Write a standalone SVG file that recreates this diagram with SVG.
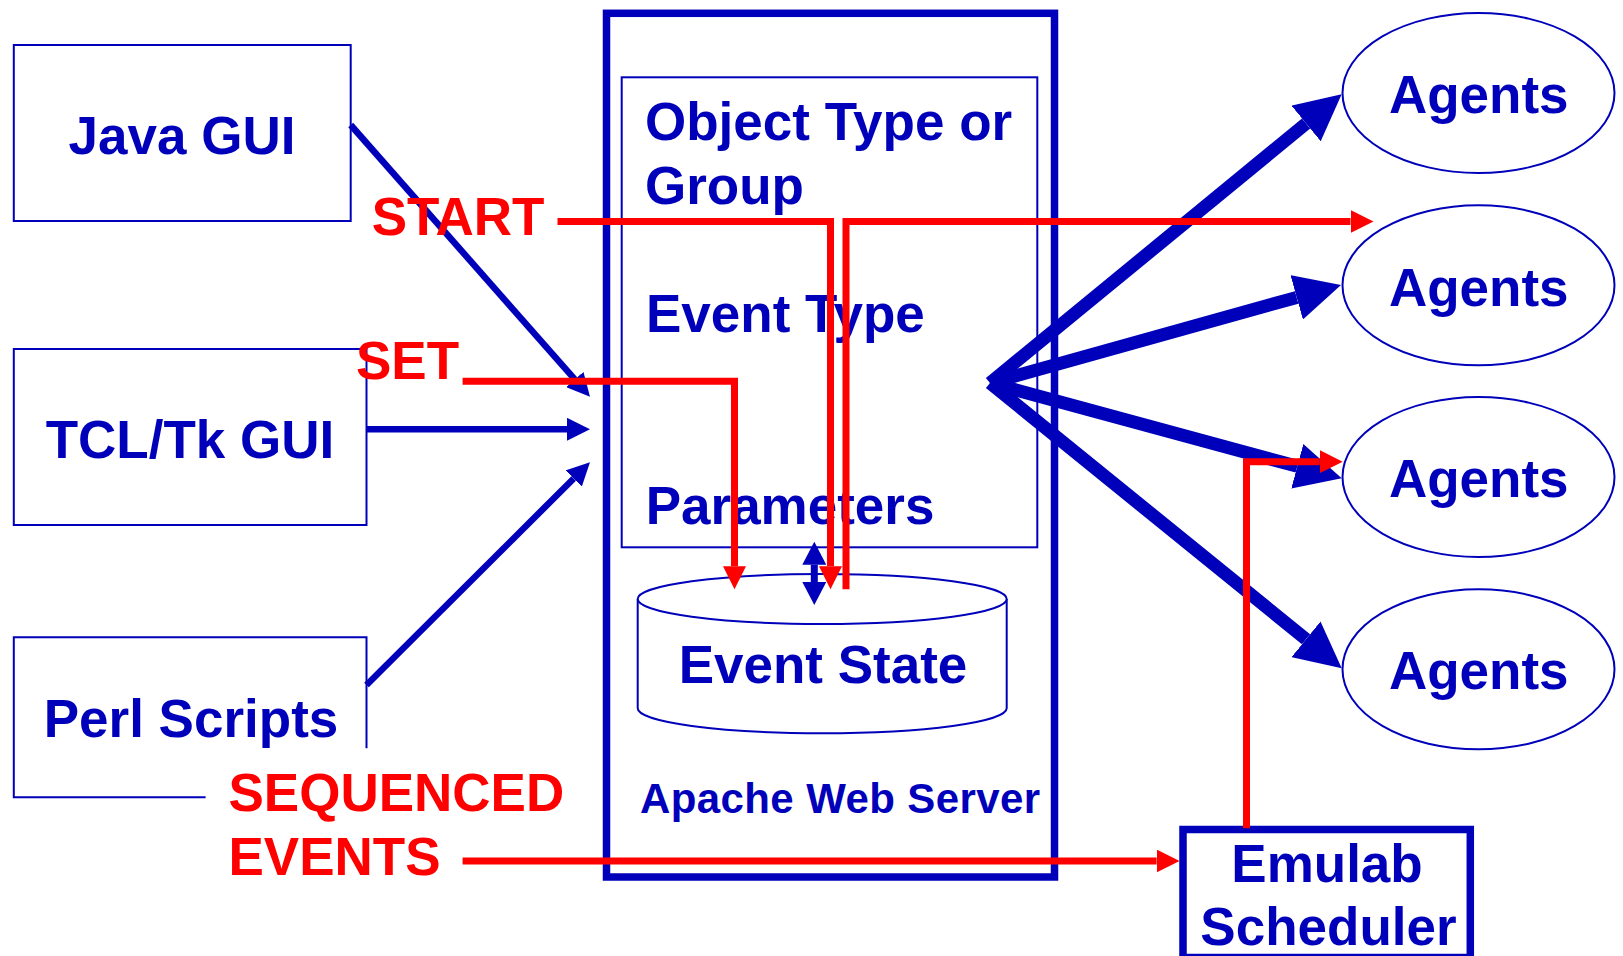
<svg xmlns="http://www.w3.org/2000/svg" width="1623" height="956" viewBox="0 0 1623 956">
<style>
.bx{fill:none;stroke:#0000BB;stroke-width:2}
.bxw{fill:#fff;stroke:#0000BB;stroke-width:2}
.thick{fill:none;stroke:#0000BB;stroke-width:7.5}
.t{font-family:"Liberation Sans",Arial,sans-serif;font-weight:bold;font-size:53px;fill:#0000BB}
.ts{font-size:42px;letter-spacing:0.4px}
.r{font-family:"Liberation Sans",Arial,sans-serif;font-weight:bold;font-size:53px;fill:#FF0000}
.m{text-anchor:middle}
.fan{fill:none;stroke:#0000BB;stroke-width:13;marker-end:url(#bigBlue)}
.thin{fill:none;stroke:#0000BB;stroke-width:6.5;marker-end:url(#smallBlue)}
.dbl{fill:none;stroke:#0000BB;stroke-width:7;marker-end:url(#smallBlue2)}
.red{fill:none;stroke:#FF0000;stroke-width:7}
.ra{marker-end:url(#redArrow)}
</style>
<defs>
<marker id="bigBlue" markerUnits="userSpaceOnUse" viewBox="0 -23 46 46" refX="0" refY="0" markerWidth="46" markerHeight="46" orient="auto"><path d="M0,-23 L46,0 L0,23 z" fill="#0000BB"/></marker>
<marker id="smallBlue" markerUnits="userSpaceOnUse" viewBox="0 -11.5 23 23" refX="0" refY="0" markerWidth="23" markerHeight="23" orient="auto"><path d="M0,-11.5 L23,0 L0,11.5 z" fill="#0000BB"/></marker>
<marker id="smallBlue2" markerUnits="userSpaceOnUse" viewBox="0 -12 23 24" refX="0" refY="0" markerWidth="23" markerHeight="24" orient="auto"><path d="M0,-12 L23,0 L0,12 z" fill="#0000BB"/></marker>
<marker id="redArrow" markerUnits="userSpaceOnUse" viewBox="0 -11.5 23 23" refX="0" refY="0" markerWidth="23" markerHeight="23" orient="auto"><path d="M0,-11.5 L23,0 L0,11.5 z" fill="#FF0000"/></marker>
</defs>
<rect width="1623" height="956" fill="#fff"/>

<g id="java-gui">
<rect class="bx" x="13.8" y="45" width="336.9" height="176"/>
<text class="t m" x="182" y="154">Java GUI</text>
</g>
<g id="tcl-gui">
<rect class="bx" x="13.8" y="349" width="352.7" height="176"/>
<text class="t m" x="190" y="457.7">TCL/Tk GUI</text>
</g>
<g id="perl-scripts">
<path class="bx" d="M205.6,797.3 H13.8 V637.3 H366.5 V748.3"/>
<text class="t m" x="191" y="737.3">Perl Scripts</text>
</g>

<g id="apache-web-server">
<rect class="thick" x="606.5" y="13.3" width="448" height="863.7"/>
<text class="t ts" x="640" y="813.3">Apache Web Server</text>
</g>
<g id="event-fields">
<rect class="bx" x="621.7" y="77.3" width="415.6" height="470"/>
<text class="t" x="645" y="140">Object Type or</text>
<text class="t" x="645" y="204">Group</text>
<text class="t" x="646" y="332.3">Event Type</text>
<text class="t" x="645.7" y="524">Parameters</text>
</g>
<g id="event-state">
<path class="bxw" d="M637.7,599 V708.3 A184.5,25 0 0 0 1006.7,708.3 V599"/>
<ellipse class="bxw" cx="822.2" cy="599" rx="184.5" ry="25"/>
<text class="t m" x="823" y="683.3">Event State</text>
</g>

<g id="agents-1">
<ellipse class="bxw" cx="1478.5" cy="93" rx="136" ry="80"/>
<text class="t m" x="1478.7" y="113.3">Agents</text>
</g>
<g id="agents-2">
<ellipse class="bxw" cx="1478.5" cy="285.3" rx="136" ry="80"/>
<text class="t m" x="1478.7" y="305.7">Agents</text>
</g>
<g id="agents-3">
<ellipse class="bxw" cx="1478.5" cy="477" rx="136" ry="80"/>
<text class="t m" x="1478.7" y="497.3">Agents</text>
</g>
<g id="agents-4">
<ellipse class="bxw" cx="1478.5" cy="669.3" rx="136" ry="80"/>
<text class="t m" x="1478.7" y="689.3">Agents</text>
</g>

<g id="emulab-scheduler">
<rect class="thick" x="1183" y="829.5" width="287.3" height="128"/>
<text class="t m" x="1327" y="881.7">Emulab</text>
<text class="t m" x="1328.5" y="945">Scheduler</text>
</g>

<g id="connectors">
<line class="thin" x1="350.7" y1="125" x2="574.8" y2="379.45"/>
<line class="thin" x1="366.5" y1="429.3" x2="567" y2="429.3"/>
<line class="thin" x1="366.5" y1="685" x2="573.7" y2="478.5"/>
<line class="dbl" x1="814.3" y1="573.3" x2="814.3" y2="564.7"/>
<line class="dbl" x1="814.3" y1="573.3" x2="814.3" y2="582"/>
<line class="fan" x1="990" y1="383" x2="1306.1" y2="123.5"/>
<line class="fan" x1="990" y1="383" x2="1296.7" y2="297.4"/>
<line class="fan" x1="990" y1="383" x2="1297.3" y2="466.3"/>
<line class="fan" x1="990" y1="383" x2="1306" y2="639.3"/>
<path class="red ra" d="M557.5,221.5 H830.5 V566.3"/>
<path class="red ra" d="M846,589.3 V221.5 H1350.5"/>
<path class="red ra" d="M462.6,381.3 H734.5 V566.3"/>
<path class="red ra" d="M462.6,861 H1156.6"/>
<path class="red ra" d="M1246.5,828.3 V461.7 H1319.7"/>
</g>

<g id="labels">
<text class="r" x="371.7" y="235">START</text>
<text class="r" x="356" y="379">SET</text>
<text class="r" x="228.5" y="811">SEQUENCED</text>
<text class="r" x="228.5" y="875">EVENTS</text>
</g>
</svg>
